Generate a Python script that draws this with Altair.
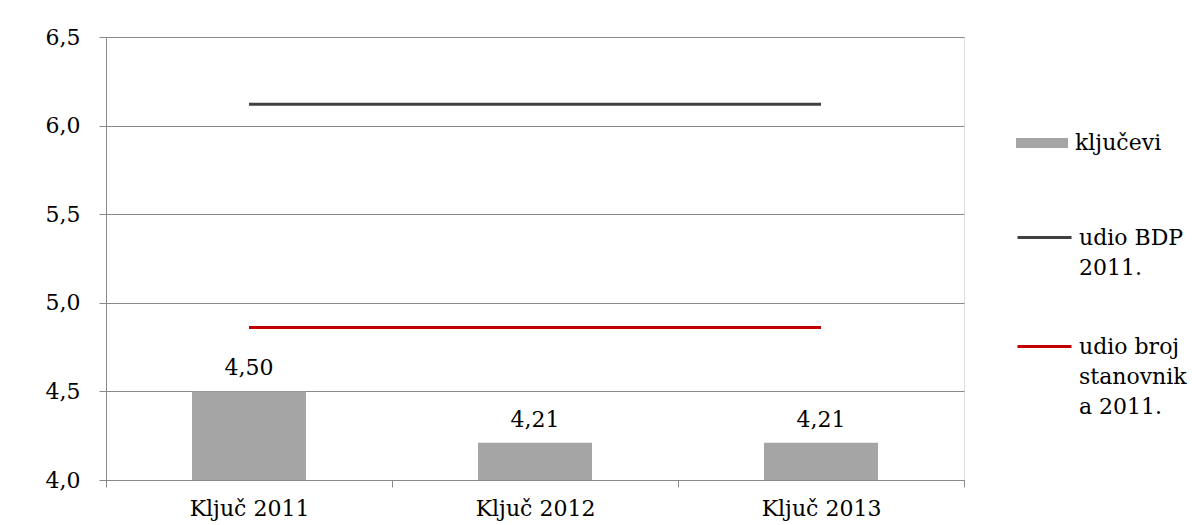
import altair as alt
import pandas as pd

# ---- data ----
categories = ["Ključ 2011", "Ključ 2012", "Ključ 2013"]
kljucevi = [4.50, 4.21, 4.21]
udio_bdp_2011 = [6.12, 6.12, 6.12]
udio_stanovnika_2011 = [4.86, 4.86, 4.86]
bar_series = "ključevi"
line_series = ["udio BDP 2011.", "udio broj stanovnika 2011."]
line_label_lines = [["udio BDP", "2011."], ["udio broj", "stanovnik", "a 2011."]]
y_ticks = [4.0, 4.5, 5.0, 5.5, 6.0, 6.5]

FONT = "DejaVu Serif"
GRID = "#898989"
BAR = "#a5a5a5"
LINE_COLORS = ["#404040", "#c00000"]

bars_df = pd.DataFrame({"cat": categories, "value": kljucevi, "series": bar_series})
lines_df = pd.DataFrame({
    "cat": categories * 2,
    "value": udio_bdp_2011 + udio_stanovnika_2011,
    "series": [line_series[0]] * 3 + [line_series[1]] * 3,
})

x_enc = alt.X(
    "cat:N",
    sort=categories,
    title=None,
    scale=alt.Scale(paddingInner=0, paddingOuter=0),
    axis=alt.Axis(
        labelAngle=0, tickBand="extent", grid=False, domainColor=GRID,
        tickColor=GRID, tickSize=7, labelPadding=11, labelFontSize=22,
        labelFont=FONT, labelColor="black",
    ),
)
y_scale = alt.Scale(domain=[4.0, 6.5], zero=False, nice=False)
y_axis = alt.Axis(
    values=y_ticks, title=None, grid=True, gridColor=GRID, domainColor=GRID,
    tickColor=GRID, tickSize=7, labelPadding=19, labelFontSize=22,
    labelFont=FONT, labelColor="black",
    labelExpr="replace(format(datum.value, '.1f'), '.', ',')",
)

# legend label wrapping
label_expr = "datum.label"
for name, parts in reversed(list(zip(line_series, line_label_lines))):
    arr = "[" + ",".join("'" + p + "'" for p in parts) + "]"
    label_expr = f"datum.label == '{name}' ? {arr} : ({label_expr})"

bars = alt.Chart(bars_df).mark_bar(size=114).encode(
    x=x_enc,
    y=alt.Y("value:Q", scale=y_scale, axis=y_axis),
    y2=alt.datum(4.0),
    color=alt.Color(
        "series:N",
        scale=alt.Scale(domain=[bar_series], range=[BAR]),
        legend=alt.Legend(
            title=None, orient="none", legendX=910, legendY=80, padding=0,
            symbolType="M-1,-0.19H1V0.19H-1Z", symbolSize=2704,
            symbolStrokeWidth=0, labelOffset=7, labelFontSize=22,
            labelFont=FONT, labelColor="black",
        ),
    ),
)

labels = alt.Chart(bars_df).transform_calculate(
    lbl="replace(format(datum.value, '.2f'), '.', ',')"
).mark_text(baseline="alphabetic", dy=-16, fontSize=22, font=FONT, color="black").encode(
    x=alt.X("cat:N", sort=categories),
    y=alt.Y("value:Q"),
    text="lbl:N",
)

lines = alt.Chart(lines_df).mark_line(strokeWidth=3).encode(
    x=alt.X("cat:N", sort=categories),
    y=alt.Y("value:Q"),
    stroke=alt.Stroke(
        "series:N",
        scale=alt.Scale(domain=line_series, range=LINE_COLORS),
        legend=alt.Legend(
            title=None, orient="none", legendX=910, legendY=172, padding=0,
            symbolType="stroke", symbolSize=2916, symbolStrokeWidth=3,
            labelOffset=6, labelFontSize=22, labelFont=FONT, labelColor="black",
            labelBaseline="middle", rowPadding=39, labelExpr=label_expr,
        ),
    ),
)

chart = alt.layer(bars, labels, lines).properties(
    width=858,
    height=443,
    autosize=alt.AutoSizeParams(type="none"),
    padding={"left": 98, "top": 29, "right": 231, "bottom": 45},
).configure_view(stroke=GRID).configure(
    font=FONT,
    style={"guide-label": {"lineHeight": 30}},
)

chart.save("out.html", embed_options={"renderer": "svg", "actions": False})
